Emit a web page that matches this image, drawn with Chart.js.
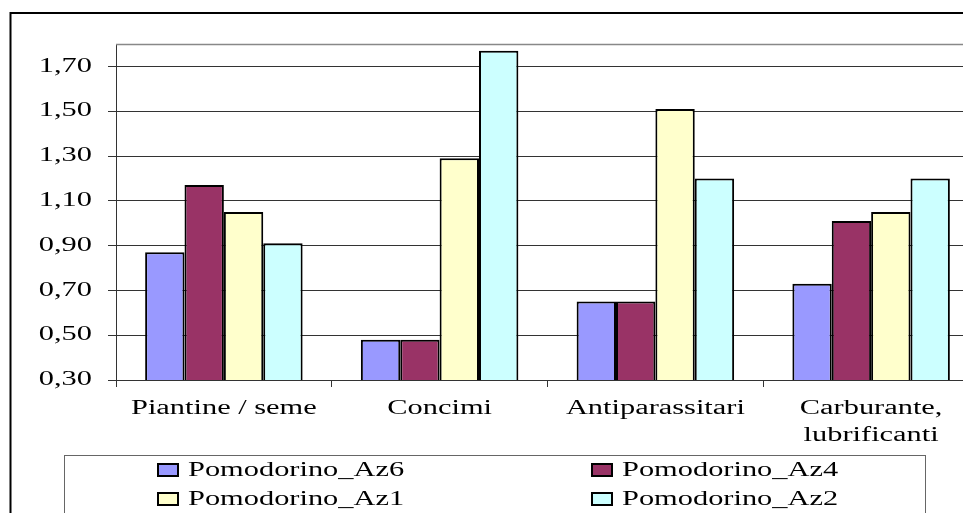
<!DOCTYPE html>
<html>
<head>
<meta charset="utf-8">
<script src="https://cdn.jsdelivr.net/npm/chart.js@4/dist/chart.umd.min.js"></script>
<style>
  html, body { margin: 0; padding: 0; background: #fff; overflow: hidden; }
  #wrap { width: 963px; height: 513px; overflow: hidden; position: relative; }
  canvas { display: block; }
</style>
</head>
<body>
<div id="wrap"><canvas id="c" width="1000" height="560"></canvas></div>
<script>
// Categories and series
const categories = ['Piantine / seme', 'Concimi', 'Antiparassitari', ['Carburante,', 'lubrificanti']];
const seriesNames = ['Pomodorino_Az6', 'Pomodorino_Az4', 'Pomodorino_Az1', 'Pomodorino_Az2'];
const az6 = [0.87, 0.48, 0.65, 0.73];
const az4 = [1.17, 0.48, 0.65, 1.01];
const az1 = [1.05, 1.29, 1.51, 1.05];
const az2 = [0.91, 1.77, 1.20, 1.20];
const seriesColors = ['#9999FF', '#993366', '#FFFFCC', '#CCFFFF'];
const yTickLabels = ['0,30', '0,50', '0,70', '0,90', '1,10', '1,30', '1,50', '1,70'];
const yMin = 0.3, yMax = 1.8;

const FONT = { family: '"Liberation Serif", "Times New Roman", serif', size: 20, lineHeight: 1.35 };
const TEXT_STRETCH = 1.52;

// Wide serif lettering: every string is drawn and measured with a horizontal stretch.
function stretchText(ctx, k) {
  const fill = ctx.fillText.bind(ctx);
  const measure = ctx.measureText.bind(ctx);
  ctx.fillText = (text, x, y) => {
    ctx.save();
    ctx.translate(x, y);
    ctx.scale(k, 1);
    fill(text, 0, 0);
    ctx.restore();
  };
  ctx.measureText = (text) => {
    const m = measure(text);
    return {
      width: m.width * k,
      actualBoundingBoxAscent: m.actualBoundingBoxAscent,
      actualBoundingBoxDescent: m.actualBoundingBoxDescent,
      actualBoundingBoxLeft: m.actualBoundingBoxLeft * k,
      actualBoundingBoxRight: m.actualBoundingBoxRight * k,
      fontBoundingBoxAscent: m.fontBoundingBoxAscent,
      fontBoundingBoxDescent: m.fontBoundingBoxDescent
    };
  };
}

// Outer frame, plot-area top edge and the boxed two-column legend
const framePlugin = {
  id: 'frameAndLegend',
  beforeDatasetsDraw(chart) {
    const { ctx, chartArea } = chart;
    ctx.save();
    ctx.strokeStyle = '#888';
    ctx.lineWidth = 1.5;
    ctx.beginPath();
    ctx.moveTo(chartArea.left, chartArea.top + 0.5);
    ctx.lineTo(chartArea.right, chartArea.top + 0.5);
    ctx.stroke();
    ctx.restore();
  },
  afterDraw(chart) {
    const { ctx } = chart;
    ctx.save();
    // outer frame
    ctx.strokeStyle = '#000';
    ctx.lineWidth = 2;
    ctx.strokeRect(10.5, 13, 1100, 700);
    // legend box
    ctx.strokeStyle = '#666';
    ctx.lineWidth = 1;
    ctx.strokeRect(64.5, 455.5, 861, 200);
    const colX = [158, 592];
    const rowBase = [476, 505];
    ctx.font = `${FONT.size}px ${FONT.family}`;
    ctx.textAlign = 'left';
    ctx.textBaseline = 'alphabetic';
    chart.data.datasets.forEach((ds, i) => {
      const x = colX[i % 2];
      const y = rowBase[Math.floor(i / 2)];
      ctx.fillStyle = ds.backgroundColor;
      ctx.fillRect(x, y - 12, 20, 12);
      ctx.strokeStyle = '#000';
      ctx.lineWidth = 2;
      ctx.strokeRect(x, y - 12, 20, 12);
      ctx.fillStyle = '#000';
      ctx.fillText(ds.label, x + 30, y);
    });
    ctx.restore();
  }
};

const canvas = document.getElementById('c');
const ctx = canvas.getContext('2d');
stretchText(ctx, TEXT_STRETCH);

const seriesValues = [az6, az4, az1, az2];

new Chart(ctx, {
  type: 'bar',
  data: {
    labels: categories,
    datasets: seriesValues.map((vals, i) => ({
      label: seriesNames[i],
      data: vals,
      backgroundColor: seriesColors[i],
      borderColor: '#000',
      borderWidth: 2,
      borderSkipped: false,
      categoryPercentage: 0.73,
      barPercentage: 1.0
    }))
  },
  options: {
    responsive: false,
    animation: false,
    devicePixelRatio: 1,
    layout: { padding: { left: 0, top: 44, right: 21, bottom: 0 } },
    plugins: { legend: { display: false }, tooltip: { enabled: false } },
    scales: {
      x: {
        offset: true,
        grid: { display: true, drawOnChartArea: false, drawTicks: true, tickLength: 7, color: '#333', offset: true },
        border: { display: true, color: '#333', width: 1 },
        ticks: { color: '#000', font: FONT, autoSkip: false, maxRotation: 0, minRotation: 0, padding: 8 },
        afterFit(scale) { scale.height = 560 - 380; }
      },
      y: {
        min: yMin,
        max: yMax,
        afterBuildTicks(scale) {
          scale.ticks = yTickLabels.map(t => ({ value: parseFloat(t.replace(',', '.')) }));
        },
        afterFit(scale) { scale.width = 116; },
        grid: { color: '#333', lineWidth: 1, tickLength: 8, drawTicks: true },
        border: { display: true, color: '#333', width: 1 },
        ticks: {
          color: '#000',
          font: FONT,
          padding: 16,
          callback(value) {
            const i = yTickLabels.findIndex(t => Math.abs(parseFloat(t.replace(',', '.')) - value) < 1e-6);
            return i >= 0 ? yTickLabels[i] : '';
          }
        }
      }
    }
  },
  plugins: [framePlugin]
});
</script>
</body>
</html>
